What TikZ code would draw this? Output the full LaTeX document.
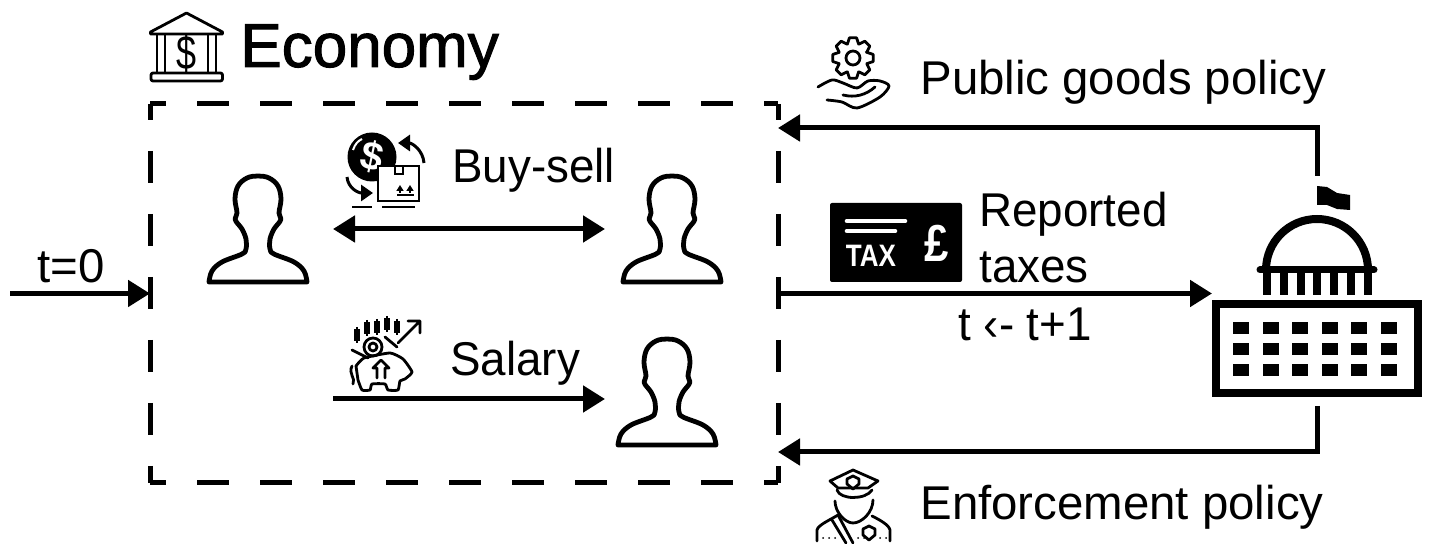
\documentclass[tikz,border=0pt]{standalone}
\usepackage{fontspec}
\setmainfont{Liberation Sans}
\newfontfamily\headfont[FakeBold=1.6]{Liberation Sans}
\newfontfamily\narrowfont[FakeStretch=0.965]{Liberation Sans}
\newfontfamily\taxfont[FakeStretch=0.84]{Liberation Sans Bold}
\usetikzlibrary{arrows.meta}

\begin{document}
\begin{tikzpicture}[x=0.5pt, y=-0.5pt,
	main/.style = {font=\fontsize{23.7}{28}\selectfont, inner sep=0, anchor=base west},
	short/.style = {font=\narrowfont\fontsize{23.7}{28}\selectfont, inner sep=0, anchor=base west},
	person/.style = {minimum height=56pt, inner sep=0, outer sep=0},
	flow/.style = {line width=2.5pt, -{Triangle[length=11pt,width=13pt]}},
	dashside/.style = {line width=2.5pt, dash pattern=on 16pt off 15.5pt, dash phase=8pt},
	icon/.style = {line width=1.4pt, line join=round, line cap=round},
	person icon/.pic = {
		\draw[line width=2.4pt, line join=round] plot[smooth, tension=0.6] coordinates {(-49,53) (-46,42) (-36,33) (-16,25) (-12,20) (-12,10) (-16,0) (-20,-5) (-23,-10) (-21,-16) (-23,-30) (-20,-43) (-11,-51) (0,-53) (11,-51) (20,-43) (23,-30) (21,-16) (23,-10) (20,-5) (16,0) (12,10) (12,20) (16,25) (36,33) (46,42) (49,53)} -- cycle;
	}]
	\useasboundingbox (0,0) rectangle (1431,544);

	\node[inner sep=0, outer sep=0, minimum width=314pt, minimum height=189.5pt] (economy) at (464,293.5) {};
	\draw[dashside] (economy.north west) -- (economy.north east);
	\draw[dashside] (economy.north west) -- (economy.south west);
	\draw[dashside] (economy.south west) -- (economy.south east);
	\draw[dashside] (economy.north east) -- (economy.south east);

	\node[person, minimum width=75pt] (buyer) at (258,229) {};
	\node[person, minimum width=67pt] (seller) at (672,229) {};
	\node[person, minimum width=62pt] (earner) at (667,392) {};
	\pic at (buyer) {person icon};
	\pic at (seller) {person icon};
	\pic at (earner) {person icon};

	\node[inner sep=0, outer sep=0, minimum width=105pt, minimum height=115pt] (capitol) at (1317,291) {};
	\coordinate (start) at (10,293.5);
	\coordinate (salarystart) at (333,399);
	\coordinate (pubturn) at (1317,128);
	\coordinate (enfturn) at (1317,452);

	\draw[flow] (start) -- (economy.west);
	\draw[flow, {Triangle[length=11pt,width=13pt]}-{Triangle[length=11pt,width=13pt]}] (buyer.east) -- (seller.west);
	\draw[flow] (salarystart) -- (salarystart -| earner.west);
	\draw[flow] (economy.east) -- (economy.east -| capitol.west);
	\draw[flow] (capitol.north) -- (pubturn) -- (pubturn -| economy.east);
	\draw[flow] (capitol.south) -- (enfturn) -- (enfturn -| economy.east);

	\node[main, font=\headfont\fontsize{31}{34}\selectfont] (title) at (240,67) {Economy};
	\node[main] (t0) at (37,283) {t=0};
	\node[short] (buysell) at (452,183) {Buy-sell};
	\node[short] (salary) at (450,376) {Salary};
	\node[main] (pubgoods) at (920,95) {Public goods policy};
	\node[main] (enforce) at (920,520) {Enforcement policy};
	\node[short, anchor=west, align=left] (reported) at (979,238) {Reported\\taxes};
	\node[short] (tick) at (958,341) {t ‹- t+1};

	% bank
	\draw[icon] (186.5,13) -- (222.5,32) -- (222.5,34) -- (150.5,34) -- (150.5,32) -- cycle;
	\draw[icon] (157,35) -- (157,72) (165,35) -- (165,72) (208,35) -- (208,72) (216,35) -- (216,72);
	\draw[icon, rounded corners=1pt] (151,73) rectangle (222.5,81);
	\node[inner sep=0, font=\fontsize{24}{24}\selectfont, xscale=0.75] (bankdollar) at (186.5,53) {\$};

	% coin and parcel
	\fill (372,157) circle (24.5);
	\draw[white, line width=1pt] (353,150) .. controls (355,144) and (358,141) .. (362,139);
	\node[inner sep=0, white, font=\bfseries\fontsize{20}{20}\selectfont, rotate=-12] (coindollar) at (372,157) {\$};
	\draw[fill=white, line width=1.4pt] (378,166) rectangle (419,201);
	\draw[line width=1pt] (395,167) -- (395,174) -- (403,174) -- (403,167);
	\draw[-{Triangle[length=3pt,width=3.5pt]}, line width=0.8pt] (400,193) -- (400,185);
	\draw[-{Triangle[length=3pt,width=3.5pt]}, line width=0.8pt] (410,193) -- (410,185);
	\draw[line width=0.8pt] (397,195) -- (414,195);
	\draw[line width=1.5pt, -{Triangle[length=6pt,width=8pt]}] (424,163) .. controls (423,150) and (412,143) .. (398,143);
	\draw[line width=1.5pt, -{Triangle[length=6pt,width=8pt]}] (347,177) .. controls (348,188) and (358,193) .. (373,193);
	\draw[line width=0.8pt] (352,207) -- (372,207) (382,207) -- (415,207);

	% piggy bank
	\foreach \cx/\cy in {357/335, 367/328, 377/327, 387/324, 397/327} {
		\draw[line width=1pt] (\cx-2,\cy-5) rectangle (\cx+2,\cy+5) (\cx,\cy-8) -- (\cx,\cy+8);
	}
	\draw[icon] (398,343) -- (419,322) (408,321) -- (420,321) -- (420,333);
	\draw[icon] (352,350) -- (368,358) (385,337) -- (397,347);
	\draw[icon] (373,347) circle (9) (373,347) circle (4);
	\draw[icon] plot[smooth, tension=0.3] coordinates {(356,366) (364,358) (390,353) (403,359) (412,372) (405,379) (400,381) (398,390) (388,390) (385,384) (372,384) (370,390) (362,390) (358,380)} -- cycle;
	\draw[icon] (352,366) .. controls (348,374) and (356,378) .. (353,384);
	\draw[icon] (377,378) -- (377,368) -- (373,368) -- (381,360) -- (389,368) -- (385,368) -- (385,378);

	% gear and hand
	\draw[icon, shift={(853,58)}] (-24:14.5) foreach \a in {0,45,...,315} { -- (\a-22:15) -- (\a-10:20.5) -- (\a+10:20.5) -- (\a+22:15) } -- cycle;
	\draw[icon] (853,58) circle (7);
	\draw[icon] plot[smooth, tension=0.5] coordinates {(818,87) (832,80) (843,83) (857,88) (868,81) (880,81) (889,86) (880,97) (857,108) (842,102) (827,100)};
	\draw[icon] (843,95) .. controls (855,98) and (866,95) .. (875,87);

	% tax
	\node[fill=black, rounded corners=1pt, inner sep=0, minimum width=66pt, minimum height=39.5pt] (taxbox) at (896,242.5) {};
	\draw[white, line width=2.3pt, line cap=round] (847,221) -- (905,221) (847,231) -- (895,231);
	\node[inner sep=0, white, font=\taxfont\fontsize{15.5}{16}\selectfont] (taxword) at (871,256) {TAX};
	\node[inner sep=0, white, font=\taxfont\fontsize{26}{26}\selectfont] (pound) at (937,243) {£};

	% capitol
	\fill (1317,186) -- (1327,187) -- (1337,193) -- (1350,195) -- (1350,210) -- (1337,209) -- (1327,205) -- (1317,205) -- cycle;
	\draw[line width=4pt] (1266,270) arc[start angle=180, end angle=360, radius=51];
	\draw[line width=3.5pt, line cap=round] (1260,270) -- (1374,270);
	\foreach \cx in {1267,1284,1301,1317,1334,1351,1368} {
		\draw[line width=4pt] (\cx,270) -- (\cx,295);
	}
	\draw[line width=4pt] (1216,304) rectangle (1418,393);
	\foreach \wx in {1233,1262.5,1292,1321.5,1351,1380.5} {
		\foreach \wy in {322,343,364} {
			\fill (\wx,\wy) rectangle (\wx+16,\wy+12);
		}
	}

	% policeman
	\draw[icon] (830,481) -- (853,470) -- (878,481) -- (868,488) -- (838,488) -- cycle;
	\draw[icon] (853,476) -- (859,479) -- (859,484) -- (853,489) -- (847,484) -- (847,479) -- cycle;
	\draw[icon] (837,490) .. controls (840,500) and (866,500) .. (872,490);
	\draw[icon] (835,501) .. controls (835,512) and (845,523) .. (853,523) .. controls (862,523) and (873,512) .. (873,500);
	\draw[icon] (817,541) -- (817,530) .. controls (818,525) and (830,520) .. (838,515);
	\draw[icon] (890,541) -- (890,530) .. controls (889,525) and (880,520) .. (872,516);
	\draw[icon] (832,520) -- (846,543) (838,515) -- (853,543);
	\draw[icon] (869,526) -- (875,529) -- (875,535) -- (869,540) -- (863,535) -- (863,529) -- cycle;
	\foreach \dx in {823,829,835,858,864,880,886} {
		\fill (\dx,538) circle (1);
	}
\end{tikzpicture}
\end{document}
